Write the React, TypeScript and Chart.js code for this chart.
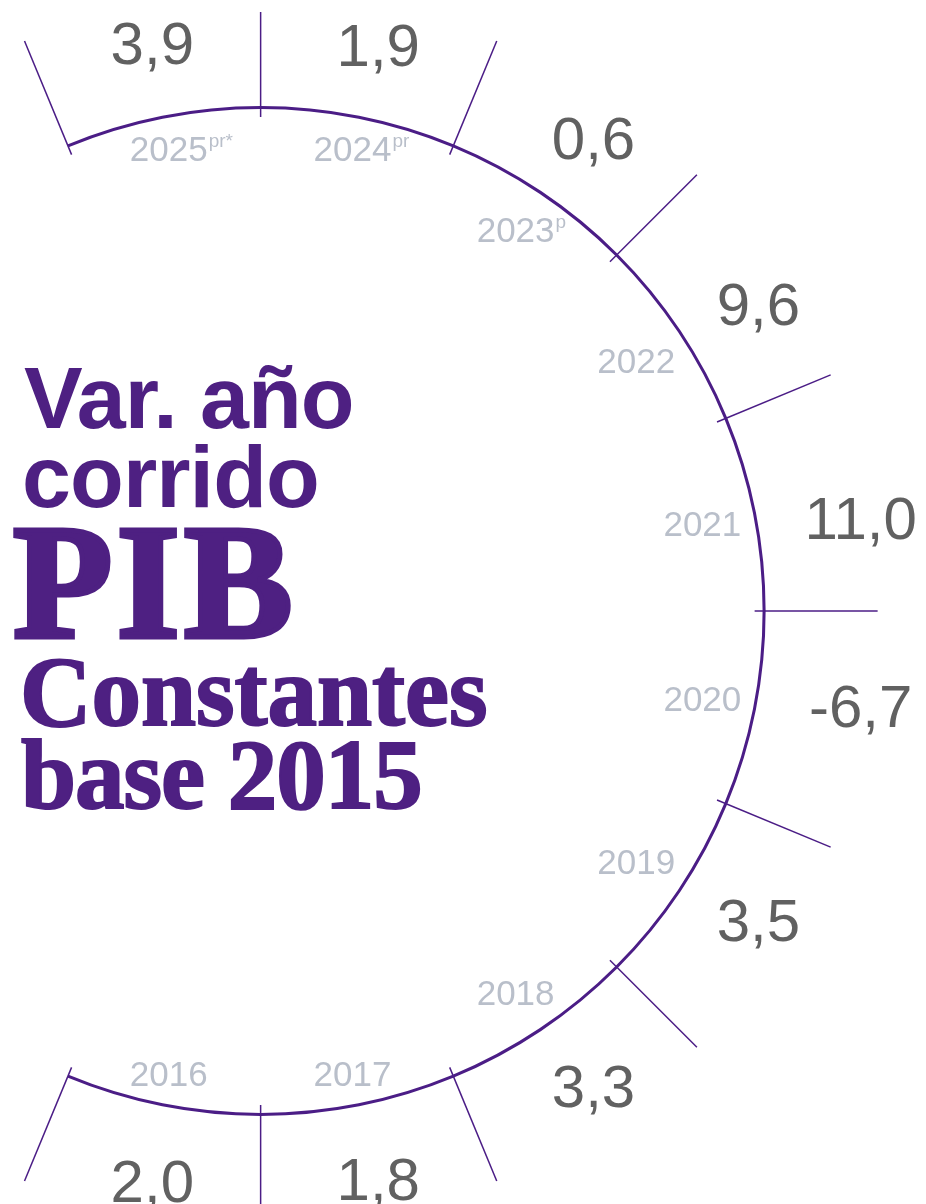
import React, { useEffect, useRef } from 'react';
import { Chart, registerables } from 'chart.js';

Chart.register(...registerables);

// ---- Data (chronological) ----
const years = ['2016', '2017', '2018', '2019', '2020', '2021', '2022', '2023', '2024', '2025'];
const yearSuffixes = ['', '', '', '', '', '', '', 'p', 'pr', 'pr*'];
const gdpGrowth = [2.0, 1.8, 3.3, 3.5, -6.7, 11.0, 9.6, 0.6, 1.9, 3.9];
// every year gets an equal slice of the arc
const segmentWeights = [1, 1, 1, 1, 1, 1, 1, 1, 1, 1];

// ---- Styles ----
const PURPLE = '#4B1D86';
const TITLE_PURPLE = '#4E2082';
const VALUE_GREY = '#616161';
const YEAR_GREY = '#B9BFCA';
const SANS = '"Liberation Sans", Arial, Helvetica, sans-serif';
const SERIF = '"Liberation Serif", "Times New Roman", serif';

// chart draws clockwise starting with the most recent year
const chartYears = [...years].reverse();
const chartSuffixes = [...yearSuffixes].reverse();
const chartValues = [...gdpGrowth].reverse();

const fmt = (v: number) => v.toFixed(1).replace('.', ',');

const arcDecor = {
  id: 'arcDecor',
  afterDatasetsDraw(chart: any) {
    const ctx: CanvasRenderingContext2D = chart.ctx;
    const arcs: any[] = chart.getDatasetMeta(0).data;
    if (!arcs.length) return;
    const cx0 = arcs[0].x;
    const cy0 = arcs[0].y;
    const R = arcs[0].outerRadius;

    // radial ticks at every segment boundary
    ctx.save();
    ctx.beginPath();
    ctx.rect(0, 12, chart.width, chart.height);
    ctx.clip();
    ctx.strokeStyle = PURPLE;
    ctx.lineWidth = 1.5;
    const bounds = arcs.map((a) => a.startAngle);
    bounds.push(arcs[arcs.length - 1].endAngle);
    for (const a of bounds) {
      ctx.beginPath();
      ctx.moveTo(cx0 + Math.cos(a) * (R - 11), cy0 + Math.sin(a) * (R - 11));
      ctx.lineTo(cx0 + Math.cos(a) * (R + 112), cy0 + Math.sin(a) * (R + 112));
      ctx.stroke();
    }
    ctx.restore();

    ctx.save();
    arcs.forEach((arc, i) => {
      const mid = (arc.startAngle + arc.endAngle) / 2;
      const c = Math.cos(mid);
      const s = Math.sin(mid);

      // value label outside the arc, leaning slightly toward the horizontal
      const lean = (2.4 * Math.PI) / 180 * Math.abs(c) * (s < 0 ? 1 : -1);
      const va = mid + lean;
      const vc = Math.cos(va);
      const vs = Math.sin(va);
      const txt = fmt(chartValues[i]);
      ctx.font = `60px ${SANS}`;
      const h = 44;
      const r = R + 74 + 32 * Math.pow(Math.abs(vc), 10);
      const vx = cx0 + vc * r;
      const vy = cy0 + vs * r;
      ctx.fillStyle = VALUE_GREY;
      ctx.textAlign = 'center';
      ctx.textBaseline = 'alphabetic';
      ctx.fillText(txt, vx, vy + h / 2);

      // year label inside the arc
      const yr = chartYears[i];
      ctx.font = `35px ${SANS}`;
      const yw = ctx.measureText(yr).width;
      const yh = 25;
      const yhalf = (Math.abs(c) * yw) / 2 + (Math.abs(s) * yh) / 2;
      const rr = R - 14 - yhalf;
      const yx = cx0 + c * rr;
      const yy = cy0 + s * rr;
      ctx.fillStyle = YEAR_GREY;
      ctx.textAlign = 'left';
      ctx.fillText(yr, yx - yw / 2, yy + yh / 2);
      const suf = chartSuffixes[i];
      if (suf) {
        ctx.font = `19px ${SANS}`;
        ctx.fillText(suf, yx + yw / 2 + 1, yy - yh / 2 + 11);
      }
    });
    ctx.restore();
  },
};

export default function App() {
  const canvasRef = useRef<HTMLCanvasElement | null>(null);

  useEffect(() => {
    if (!canvasRef.current) return;
    const chart = new Chart(canvasRef.current, {
      type: 'doughnut',
      data: {
        labels: chartYears,
        datasets: [
          {
            data: segmentWeights,
            backgroundColor: PURPLE,
            borderWidth: 0,
            hoverOffset: 0,
          },
        ],
      },
      options: {
        animation: false,
        responsive: true,
        maintainAspectRatio: false,
        events: [],
        rotation: -22.5,
        circumference: 225,
        radius: 505,
        cutout: '99.4%',
        layout: { padding: { left: 0, right: 93, top: 18, bottom: 0 } },
        plugins: {
          legend: { display: false },
          tooltip: { enabled: false },
          title: { display: false },
        },
      } as any,
      plugins: [arcDecor as any],
    });
    return () => chart.destroy();
  }, []);

  const base: React.CSSProperties = {
    position: 'absolute',
    margin: 0,
    whiteSpace: 'nowrap',
    color: TITLE_PURPLE,
    lineHeight: 1,
    pointerEvents: 'none',
  };

  return (
    <div
      style={{
        position: 'absolute',
        left: 0,
        top: 0,
        width: 926,
        height: 1204,
        overflow: 'hidden',
        background: '#ffffff',
      }}
    >
      <canvas ref={canvasRef} />
      <div style={{ ...base, left: 24, top: 353.5, fontFamily: SANS, fontWeight: 700, fontSize: 88, letterSpacing: -1 }}>
        Var. año
      </div>
      <div style={{ ...base, left: 22, top: 432.5, fontFamily: SANS, fontWeight: 700, fontSize: 88, letterSpacing: -0.9 }}>
        corrido
      </div>
      <div
        style={{
          ...base,
          left: 13,
          top: 500.5,
          fontFamily: SERIF,
          fontWeight: 700,
          fontSize: 163,
          letterSpacing: 4,
          WebkitTextStroke: `5px ${TITLE_PURPLE}`,
        } as any}
      >
        PIB
      </div>
      <div
        style={{
          ...base,
          left: 20,
          top: 642,
          fontFamily: SERIF,
          fontWeight: 700,
          fontSize: 99,
          WebkitTextStroke: `2px ${TITLE_PURPLE}`,
        } as any}
      >
        Constantes
      </div>
      <div
        style={{
          ...base,
          left: 21,
          top: 725,
          fontFamily: SERIF,
          fontWeight: 700,
          fontSize: 99,
          letterSpacing: -1,
          WebkitTextStroke: `2px ${TITLE_PURPLE}`,
        } as any}
      >
        base 2015
      </div>
    </div>
  );
}
